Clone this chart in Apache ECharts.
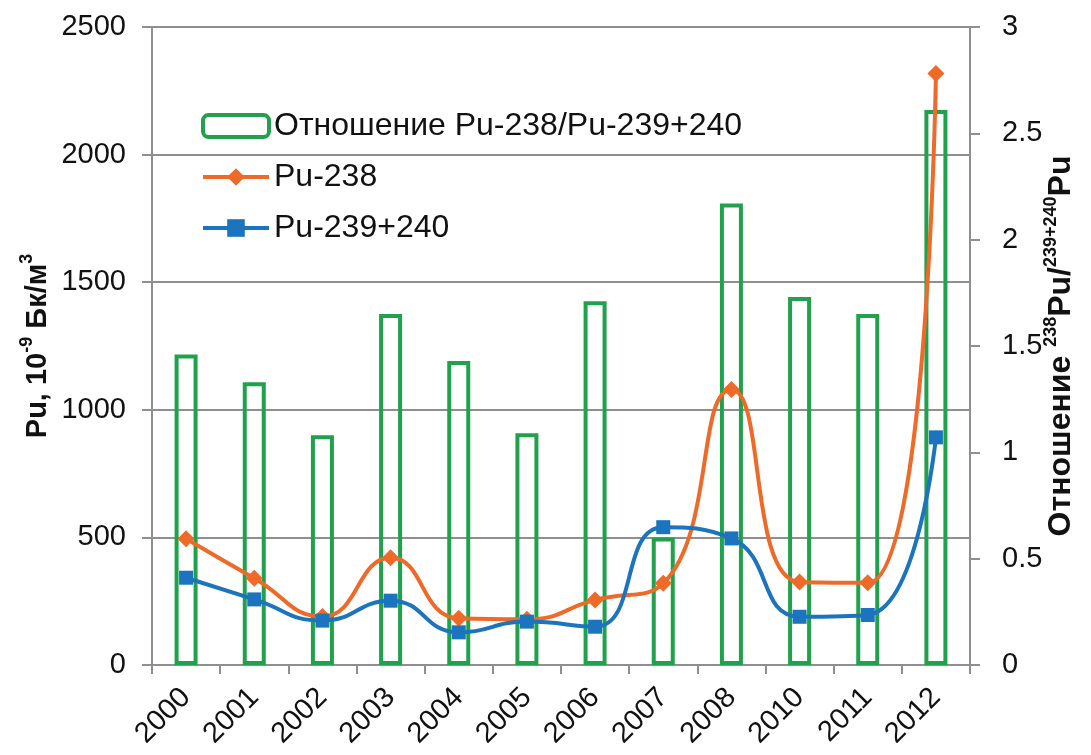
<!DOCTYPE html>
<html>
<head>
<meta charset="utf-8">
<script src="https://cdn.jsdelivr.net/npm/echarts@6/dist/echarts.min.js"></script>
<style>
  html, body { margin: 0; padding: 0; background: #fff; }
  #chart { width: 1091px; height: 755px; }
</style>
</head>
<body>
<div id="chart"></div>
<script>
const years = ['2000', '2001', '2002', '2003', '2004', '2005', '2006', '2007', '2008', '2010', '2011', '2012'];
const ratio = [1.46, 1.33, 1.08, 1.65, 1.43, 1.09, 1.71, 0.60, 2.17, 1.73, 1.65, 2.61];
const pu238 = [495, 340, 190, 420, 183, 179, 255, 320, 1080, 325, 322, 2318];
const pu239 = [342, 257, 174, 252, 128, 170, 150, 540, 496, 189, 196, 892];

const ratioName = 'Отношение Pu-238/Pu-239+240';
const FONT = 'Liberation Sans, Arial, sans-serif';
const GREEN = '#20a24c';
const ORANGE = '#ef6a28';
const BLUE = '#1b74bd';
const GRAY = '#8f8f8f';

const chart = echarts.init(document.getElementById('chart'));

const option = {
  backgroundColor: '#fff',
  textStyle: { fontFamily: FONT },
  grid: { left: 152, right: 121, top: 27, bottom: 90, outerBoundsMode: 'none' },
  legend: {
    orient: 'vertical',
    left: 196,
    top: 105,
    itemWidth: 66,
    itemHeight: 22,
    itemGap: 19,
    textStyle: { fontSize: 32, color: '#111', fontFamily: FONT },
    data: [
      { name: ratioName, itemStyle: { color: 'transparent', borderColor: GREEN, borderWidth: 4 } },
      { name: 'Pu-238', lineStyle: { width: 4 } },
      { name: 'Pu-239+240', lineStyle: { width: 4 } }
    ]
  },
  xAxis: {
    type: 'category',
    data: years,
    axisLine: { lineStyle: { color: GRAY, width: 2 } },
    axisTick: { show: true, length: 9, lineStyle: { color: GRAY, width: 2 } },
    axisLabel: { rotate: 45, fontSize: 29, color: '#111', margin: 28, interval: 0 }
  },
  yAxis: [
    {
      type: 'value',
      min: 0,
      max: 2500,
      interval: 500,
      position: 'left',
      name: '{b|Pu, 10}{s|-9}{b| Бк/м}{s|3}',
      nameLocation: 'middle',
      nameRotate: 90,
      nameGap: 100,
      nameMoveOverlap: false,
      nameTextStyle: {
        rich: {
          b: { fontSize: 29, fontWeight: 'bold', color: '#111', lineHeight: 34, verticalAlign: 'bottom' },
          s: { fontSize: 18, fontWeight: 'bold', color: '#111', lineHeight: 34, verticalAlign: 'top' }
        }
      },
      axisLine: { show: true, lineStyle: { color: GRAY, width: 2 } },
      axisTick: { show: true, length: 10, lineStyle: { color: GRAY, width: 2 } },
      axisLabel: { fontSize: 29, color: '#111', margin: 26, formatter: v => String(v) },
      splitLine: { lineStyle: { color: GRAY, width: 2 } }
    },
    {
      type: 'value',
      min: 0,
      max: 3,
      interval: 0.5,
      position: 'right',
      name: '{b|Отношение }{s|238}{b|Pu/}{s|239+240}{b|Pu}',
      nameLocation: 'middle',
      nameRotate: 90,
      nameGap: 72,
      nameMoveOverlap: false,
      nameTextStyle: {
        rich: {
          b: { fontSize: 32, fontWeight: 'bold', color: '#111', lineHeight: 35, verticalAlign: 'bottom' },
          s: { fontSize: 18, fontWeight: 'bold', color: '#111', lineHeight: 35, verticalAlign: 'top' }
        }
      },
      axisLine: { show: true, lineStyle: { color: GRAY, width: 2 } },
      axisTick: { show: true, length: 10, lineStyle: { color: GRAY, width: 2 } },
      axisLabel: { fontSize: 29, color: '#111', margin: 32 },
      splitLine: { show: false }
    }
  ],
  series: [
    {
      name: ratioName,
      type: 'bar',
      yAxisIndex: 1,
      data: ratio,
      barWidth: 23,
      z: 1,
      itemStyle: { color: 'transparent', borderColor: GREEN, borderWidth: 4 }
    },
    {
      name: 'Pu-238',
      type: 'line',
      data: pu238,
      smooth: 0.5,
      z: 3,
      symbol: 'diamond',
      symbolSize: 17,
      color: ORANGE,
      lineStyle: { width: 4, color: ORANGE },
      itemStyle: { color: ORANGE }
    },
    {
      name: 'Pu-239+240',
      type: 'line',
      data: pu239,
      smooth: 0.5,
      z: 4,
      symbol: 'rect',
      symbolSize: 14,
      color: BLUE,
      lineStyle: { width: 4, color: BLUE },
      itemStyle: { color: BLUE }
    }
  ]
};

chart.setOption(option);
</script>
</body>
</html>
